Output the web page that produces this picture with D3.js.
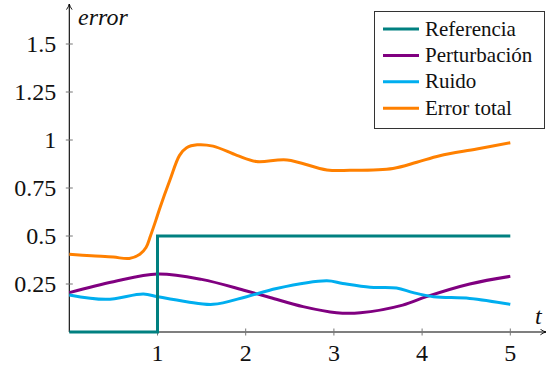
<!DOCTYPE html>
<html>
<head>
<meta charset="utf-8">
<script src="https://cdn.jsdelivr.net/npm/d3@7"></script>
<style>
  html, body { margin: 0; padding: 0; background: #fff; }
  svg { display: block; }
  text { font-family: "Liberation Serif" !important; }
</style>
</head>
<body>
<svg id="chart" width="547" height="367" font-family="Liberation Serif"></svg>
<script>
// Reference signal (step at t = 1)
const refT = [0, 1, 1, 5];
const refV = [0, 0, 0.5, 0.5];

// Disturbance
const pertT = [0, 0.5, 1, 1.5, 2, 2.275, 2.65, 3.03, 3.3, 3.78, 4.05, 4.54, 5];
const pertV = [0.205, 0.262, 0.302, 0.274, 0.215, 0.18, 0.132, 0.10, 0.10, 0.14, 0.184, 0.25, 0.29];

// Noise
const noiseT = [0, 0.42, 0.84, 1, 1.33, 1.63, 2.01, 2.35, 2.92, 3.1, 3.41, 3.71, 3.9, 4.13, 4.54, 5];
const noiseV = [0.193, 0.17, 0.198, 0.184, 0.158, 0.144, 0.184, 0.227, 0.267, 0.253, 0.233, 0.229, 0.205, 0.184, 0.175, 0.144];

// Total error
const totalT = [0, 0.25, 0.5, 0.68, 0.8, 0.87, 0.92, 0.98, 1.03, 1.14, 1.25, 1.33, 1.45, 1.63, 1.9, 2.12, 2.47, 2.92, 3.18, 3.67, 3.94, 4.2, 4.62, 5];
const totalV = [0.405, 0.397, 0.39, 0.383, 0.405, 0.44, 0.50, 0.58, 0.65, 0.79, 0.92, 0.96, 0.975, 0.968, 0.92, 0.888, 0.896, 0.844, 0.842, 0.852, 0.884, 0.918, 0.953, 0.986];

const xTicks = [1, 2, 3, 4, 5];
const yTicks = [0.25, 0.5, 0.75, 1, 1.25, 1.5];
const yTickLabels = ["0.25", "0.5", "0.75", "1", "1.25", "1.5"];

const seriesNames = ["Referencia", "Perturbación", "Ruido", "Error total"];
const seriesColors = ["#008080", "#800080", "#00aeef", "#ff8000"];

const svg = d3.select("#chart");
const x = d3.scaleLinear().domain([0, 5]).range([69.3, 510.3]);
const y = d3.scaleLinear().domain([0, 1]).range([332, 140]);

// Arrow marker for the axes
const defs = svg.append("defs");
defs.append("marker")
  .attr("id", "arrow")
  .attr("viewBox", "0 0 10 10")
  .attr("refX", 9).attr("refY", 5)
  .attr("markerWidth", 7).attr("markerHeight", 7)
  .attr("markerUnits", "userSpaceOnUse")
  .attr("orient", "auto")
  .append("path")
  .attr("d", "M1,1 Q5,4 9,5 Q5,6 1,9")
  .attr("fill", "none")
  .attr("stroke", "#000")
  .attr("stroke-width", 1.3);

// Axis lines
svg.append("line")
  .attr("x1", x(0)).attr("y1", y(0))
  .attr("x2", 546).attr("y2", y(0))
  .attr("stroke", "#000").attr("stroke-width", 1.1)
  .attr("marker-end", "url(#arrow)");
svg.append("line")
  .attr("x1", x(0)).attr("y1", y(0))
  .attr("x2", x(0)).attr("y2", 4)
  .attr("stroke", "#000").attr("stroke-width", 1.1)
  .attr("marker-end", "url(#arrow)");

// Tick marks and labels (plain text elements, positioned by the scales)
const xTickG = svg.append("g");
xTicks.forEach(v => {
  xTickG.append("line")
    .attr("x1", x(v)).attr("x2", x(v)).attr("y1", y(0) - 3.5).attr("y2", y(0) + 3.5)
    .attr("stroke", "#777").attr("stroke-width", 1);
  xTickG.append("text")
    .attr("x", x(v)).attr("y", y(0) + 29)
    .attr("text-anchor", "middle")
    .attr("font-family", "Liberation Serif").attr("font-size", 24).attr("fill", "#111")
    .text(d3.format("d")(v));
});

const yTickG = svg.append("g");
yTicks.forEach((v, i) => {
  yTickG.append("line")
    .attr("x1", x(0) - 3.5).attr("x2", x(0) + 3.5).attr("y1", y(v)).attr("y2", y(v))
    .attr("stroke", "#777").attr("stroke-width", 1);
  yTickG.append("text")
    .attr("x", x(0) - 13).attr("y", y(v) + 8)
    .attr("text-anchor", "end")
    .attr("font-family", "Liberation Serif").attr("font-size", 24).attr("fill", "#111")
    .text(yTickLabels[i]);
});

// Axis names
svg.append("text").attr("x", 78).attr("y", 25)
  .attr("font-family", "Liberation Serif").attr("font-style", "italic").attr("font-size", 24)
  .attr("fill", "#111").text("error");
svg.append("text").attr("x", 535).attr("y", 324)
  .attr("font-family", "Liberation Serif").attr("font-style", "italic").attr("font-size", 24)
  .attr("fill", "#111").text("t");

// Curves
const smooth = d3.line().x(d => x(d[0])).y(d => y(d[1])).curve(d3.curveCatmullRom.alpha(0.5));
const linear = d3.line().x(d => x(d[0])).y(d => y(d[1]));

const zip = (a, b) => a.map((v, i) => [v, b[i]]);

const plot = svg.append("g").attr("fill", "none").attr("stroke-width", 3)
  .attr("stroke-linejoin", "round");

plot.append("path").attr("d", smooth(zip(pertT, pertV))).attr("stroke", seriesColors[1]);
plot.append("path").attr("d", smooth(zip(noiseT, noiseV))).attr("stroke", seriesColors[2]);
plot.append("path").attr("d", smooth(zip(totalT, totalV))).attr("stroke", seriesColors[3]);
plot.append("path").attr("d", linear(zip(refT, refV))).attr("stroke", seriesColors[0])
  .attr("stroke-linejoin", "miter");

// Legend
const legend = svg.append("g");
legend.append("rect")
  .attr("x", 374.5).attr("y", 11.5).attr("width", 170).attr("height", 117)
  .attr("fill", "#fff").attr("stroke", "#333").attr("stroke-width", 1);
seriesNames.forEach((name, i) => {
  const cy = 29 + i * 26.4;
  legend.append("line")
    .attr("x1", 383).attr("x2", 419).attr("y1", cy).attr("y2", cy)
    .attr("stroke", seriesColors[i]).attr("stroke-width", 3);
  legend.append("text")
    .attr("x", 425).attr("y", cy + 6.5)
    .attr("font-family", "Liberation Serif").attr("font-size", 21).attr("fill", "#111")
    .text(name);
});
</script>
</body>
</html>
